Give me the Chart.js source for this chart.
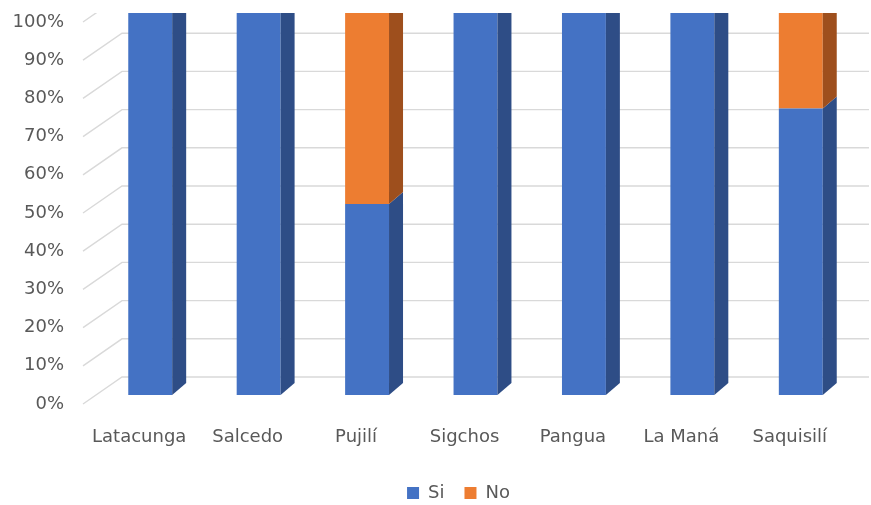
<!DOCTYPE html>
<html>
<head>
<meta charset="utf-8">
<script src="https://cdn.jsdelivr.net/npm/chart.js@4/dist/chart.umd.min.js"></script>
<style>
  html, body { margin: 0; padding: 0; background: #ffffff; }
  #wrap { width: 871px; height: 505px; }
</style>
</head>
<body>
<div id="wrap"><canvas id="chart"></canvas></div>
<script>
const categories = ['Latacunga', 'Salcedo', 'Pujilí', 'Sigchos', 'Pangua', 'La Maná', 'Saquisilí'];
const siValues = [100, 100, 50, 100, 100, 100, 75];
const noValues = [0, 0, 50, 0, 0, 0, 25];
const seriesNames = ['Si', 'No'];

const frontColors = ['#4472C4', '#ED7D31'];
const sideColors = ['#2E4D86', '#9E4F1D'];
const textColor = '#595959';
const fontFamily = "'DejaVu Sans', sans-serif";

// fake 3D: back wall grid + side faces of the bars
const depthPlugin = {
  id: 'depth',
  afterLayout(chart) {
    // legend sits a bit right of and lower than the default spot
    const lg = chart.legend;
    lg.left += 31;
    lg.right += 31;
    lg.top += 7;
    lg.bottom += 7;
  },
  beforeDatasetsDraw(chart) {
    const { ctx, chartArea, scales: { y } } = chart;
    ctx.save();
    ctx.beginPath();
    ctx.rect(0, chartArea.top, chart.width, chart.height);
    ctx.clip();
    ctx.strokeStyle = '#D9D9D9';
    ctx.lineWidth = 1.4;
    y.ticks.forEach(t => {
      const py = y.getPixelForValue(t.value);
      ctx.beginPath();
      ctx.moveTo(chartArea.left - 13, py + 9);
      ctx.lineTo(chartArea.left + 26, py - 18);
      ctx.lineTo(chart.width - 2, py - 18);
      ctx.stroke();
    });
    ctx.restore();
  },
  afterDatasetsDraw(chart) {
    const { ctx, chartArea } = chart;
    ctx.save();
    ctx.beginPath();
    ctx.rect(0, chartArea.top, chart.width, chart.height);
    ctx.clip();
    chart.data.datasets.forEach((ds, i) => {
      const meta = chart.getDatasetMeta(i);
      meta.data.forEach((bar, j) => {
        if (!ds.data[j]) return;
        const { x, y, base, width } = bar.getProps(['x', 'y', 'base', 'width'], true);
        const r = x + width / 2;
        ctx.fillStyle = sideColors[i];
        ctx.beginPath();
        ctx.moveTo(r, y);
        ctx.lineTo(r + 14, y - 12);
        ctx.lineTo(r + 14, base - 12);
        ctx.lineTo(r, base);
        ctx.closePath();
        ctx.fill();
      });
    });
    ctx.restore();
  }
};

new Chart(document.getElementById('chart'), {
  type: 'bar',
  data: {
    labels: categories,
    datasets: [{
      label: seriesNames[0],
      data: siValues,
      backgroundColor: frontColors[0],
      barPercentage: 0.405,
      categoryPercentage: 1
    }, {
      label: seriesNames[1],
      data: noValues,
      backgroundColor: frontColors[1],
      barPercentage: 0.405,
      categoryPercentage: 1
    }]
  },
  options: {
    responsive: true,
    maintainAspectRatio: false,
    animation: false,
    layout: { padding: { top: 13, right: 16, left: 0, bottom: 0 } },
    scales: {
      x: {
        stacked: true,
        grid: { display: false, drawTicks: false },
        border: { display: false },
        ticks: {
          color: textColor,
          font: { family: fontFamily, size: 18 },
          padding: 32,
          labelOffset: -11,
          maxRotation: 0
        },
        afterFit(scale) {
          scale.height = 62;
          scale.paddingLeft = 0;
          scale.paddingRight = 0;
        }
      },
      y: {
        stacked: true,
        min: 0,
        max: 100,
        grid: { display: false, drawTicks: false },
        border: { display: false },
        ticks: {
          stepSize: 10,
          color: textColor,
          font: { family: fontFamily, size: 18 },
          padding: 32,
          labelOffset: 9,
          callback: v => v + '%'
        },
        afterFit(scale) {
          scale.width = 96;
          scale.paddingTop = 0;
          scale.paddingBottom = 0;
        }
      }
    },
    plugins: {
      legend: {
        position: 'bottom',
        labels: {
          color: textColor,
          font: { family: fontFamily, size: 18 },
          boxWidth: 12,
          boxHeight: 12,
          padding: 20
        }
      },
      tooltip: { enabled: false }
    }
  },
  plugins: [depthPlugin]
});
</script>
</body>
</html>
